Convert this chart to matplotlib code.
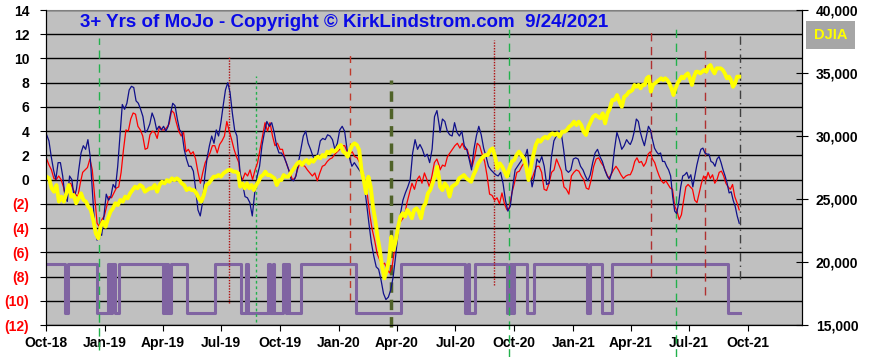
import matplotlib
matplotlib.use("Agg")
import matplotlib.pyplot as plt
import matplotlib.dates as mdates
from matplotlib.patches import Rectangle
from matplotlib.ticker import FuncFormatter
import pandas as pd

plt.rcParams["font.family"] = ["Liberation Sans", "DejaVu Sans"]
plt.rcParams["font.weight"] = "bold"

# blue MoJo line, read in four stretches (start date, end date, values)
mojo_spans = [("2018-10-02", "2019-07-26"), ("2019-07-31", "2020-06-06"),
              ("2020-06-07", "2021-03-29"), ("2021-03-31", "2021-09-17")]
mojo_1 = [3.7, 3.2, 1.9, 0.8, 0, 1.4, 1.4, 0.3, -1.4, -1.8, 0.3, 0, -1.5, -0.8, 0.8, 2.2, 2.8, 2.5,
          3.3, 1.9, -1.1, -3.9, -5.0, -4.4, -4.6, -3.0, -1.2, -1.7, -1.4, -0.4, -0.7, 1.1, 3.6, 6.2,
          5.8, 6.3, 7.4, 7.7, 7.6, 6.5, 6.3, 5.8, 5.2, 3.9, 4.1, 4.6, 5.5, 5.0, 4.1, 4.4, 4.1, 4.4,
          4.0, 4.4, 5.4, 6.3, 6.1, 5.0, 4.1, 3.9, 2.5, 1.7, 1.1, 1.1, 0.7, -0.8, -2.5, -3.0, -1.9,
          0.3, 1.8, 2.8, 3.6, 3.0, 4.1, 3.6, 4.7, 6.1, 7.4, 8.0, 7.2, 5.5, 4.1, 3.6]
mojo_2 = [0.55, -0.3, -1.4, -1.5, -1.9, -3.0, -1.1, 0.3, 1.1, 2.8, 3.9, 4.8, 4.4, 4.7, 3.9, 2.8,
          2.2, 2.2, 1.9, 1.4, 0.8, 0, -0.1, 0.3, 1.4, 2.5, 3.6, 4.0, 3.0, 2.5, 1.9, 1.7, 2.2, 3.2,
          3.4, 3.3, 3.7, 3.6, 3.3, 2.5, 3.0, 4.1, 4.4, 4.0, 2.5, 1.8, 1.1, 1.4, 1.1, 0.8, 0.55,
          -0.3, -1.9, -3.6, -5.2, -6.3, -7.2, -7.4, -8.3, -9.4, -9.9, -9.7, -9.1, -8.0, -6.3,
          -4.4, -2.8, -1.7, -1.1, -0.6, 0, 2.2, 3.3, 2.5, 2.9, 2.5, 1.9, 2.1, 1.4, 2.5, 5.2, 5.7, 4.4]
mojo_3 = [3.9, 5.0, 4.8, 4.0, 3.7, 3.6, 4.7, 3.9, 3.6, 4.0, 2.8, 2.5, 1.7, 0.8, 2.5, 3.6, 4.4, 3.7,
          2.6, 1.9, 1.1, 0.8, 0.6, 0.4, 0.3, 0.6, -0.3, -1.7, -2.6, -2.2, -0.6, 0.8, 1.1, 1.4, 1.7,
          1.8, 2.5, 0.8, -0.6, 0.3, 1.7, 1.4, 1.9, 1.1, -0.4, -0.3, 1.9, 3.2, 3.6, 4.0, 3.9, 2.5,
          0.8, 0.6, 0.8, 1.7, 1.8, 1.7, 1.1, 0.8, 0.3, -0.1, 0.4, 1.4, 2.2, 2.5, 1.9, 1.5, 0.8, 0.3,
          0, 0.7, 2.5, 3.9, 3.3, 2.5, 2.8, 3.3, 3.0]
mojo_4 = [2.9, 3.3, 4.0, 5.0, 4.8, 3.9, 3.3, 2.8, 3.6, 4.4, 4.1, 3.3, 2.6, 2.3, 2.1, 2.2, 1.5, 1.5,
          1.1, 0.8, 0.3, -1.4, -2.6, -2.8, -1.9, -0.6, 0.3, 0.4, 0.6, 0.1, 0.4, -0.6, 0.3, 1.2, 1.9,
          2.5, 2.6, 2.2, 2.1, 2.1, 1.5, 1.4, 1.1, 1.7, 1.9, 1.4, 0.8, 0.3, -0.3, -1.1, -1.0, -1.7,
          -2.2, -3.0, -3.6]

# red line
fast_spans = [("2018-10-02", "2019-07-29"), ("2019-07-31", "2020-06-06"),
              ("2020-06-07", "2021-03-28"), ("2021-03-31", "2021-09-17")]
fast_1 = [1.7, 1.2, 0.8, 0.1, 0, 0.3, 0, -0.6, -1.5, -0.4, -0.3, -0.8, -1.2, -1.4, -0.3, 0.6, 0.8,
          1.0, 1.7, 0.8, -1.4, -3.6, -3.9, -3.3, -3.0, -2.2, -1.4, -1.5, -1.1, -0.7, -0.6, 0.6, 2.5,
          4.1, 4.0, 5.0, 5.5, 5.4, 4.4, 4.1, 3.6, 2.5, 2.6, 3.7, 4.0, 3.9, 3.4, 4.4, 4.1, 4.1, 4.3,
          4.6, 5.7, 5.5, 4.7, 4.0, 3.6, 3.9, 2.3, 2.5, 2.1, 2.3, 1.7, 0.6, -0.3, 0.6, 1.4, 1.8, 2.2,
          2.8, 2.8, 2.2, 2.9, 3.2, 3.6, 4.8, 4.0, 3.3, 2.5, 1.9, 1.4]
fast_2 = [0.3, 0, 0.55, 0.3, 0.8, 0, 0.8, 1.4, 2.5, 3.6, 4.7, 4.0, 4.7, 3.6, 2.8, 3.0, 2.5, 2.5, 1.7,
          1.1, 0.55, 0, 0.1, 0.8, 1.4, 1.2, 1.1, 0.8, 0.55, 0.3, 0.55, -0.1, 0.55, 1.1, 1.2, 1.5,
          1.7, 1.8, 2.1, 2.3, 2.5, 2.8, 2.8, 2.3, 2.1, 2.3, 1.9, 1.8, 1.4, 0.8, 0, -1.1, -2.8, -4.1,
          -5.0, -6.1, -6.6, -7.0, -6.9, -7.4, -7.7, -7.2, -5.8, -4.7, -3.6, -3.3, -3.0, -1.9, -1.1,
          -0.3, -0.8, 0, 0.3, -0.3, 0.55, 0, -0.6, 0.3, 1.4, 1.7, 1.1]
fast_3 = [0.8, 1.2, 1.1, 1.9, 2.2, 2.5, 2.8, 3.0, 2.6, 3.0, 2.5, 2.5, 1.7, 1.1, 1.9, 3.0, 2.8, 2.1,
          1.5, 0.3, -1.2, -1.3, -1.7, -1.5, -2.0, -1.1, -2.0, -2.5, -2.3, -1.1, -0.3, 0.6, 0.7, 1.1,
          1.4, 0.6, 0.3, 0, 0.6, 1.1, 1.1, 0.6, -0.8, -0.9, -0.3, 0.6, 0.8, 1.7, 1.2, 0.7, -0.6,
          -0.8, -1.2, 0.3, 0.6, 0.8, 0.7, 0.3, 0, -0.7, -0.8, 0, 1.1, 1.7, 1.8, 1.4, 1.1, 0.6, 0.1,
          0.4, 0.8, 1.1, 0.8, 0.4, 0.1, 0.3, 0.4]
fast_4 = [0.4, 0.8, 1.5, 1.8, 1.4, 1.5, 1.1, 1.4, 2.1, 2.3, 1.7, 1.4, 0.8, 0.3, -0.1, -0.3, -0.1,
          -0.4, -0.7, -0.8, -2.2, -2.6, -3.3, -2.9, -1.7, -0.6, -0.4, -0.6, -0.8, -1.7, -1.9, -1.1,
          -0.3, 0.3, 0, 0.6, 0.1, 0.4, -0.3, 0, 0.6, 0.7, 0.3, -0.3, -0.6, -0.8, -0.4, -1.4, -1.9, -2.5]

# DJIA (right axis)
djia_spans = [("2018-10-02", "2019-07-28"), ("2019-07-31", "2020-06-06"),
              ("2020-06-07", "2021-03-29"), ("2021-03-31", "2021-09-17")]
djia_1 = [26770, 26640, 25850, 25580, 26110, 24790, 25190, 24790, 25450, 26110, 25190, 25320, 24660,
          25050, 25450, 24920, 24790, 24390, 24130, 23330, 22280, 21880, 22800, 23200, 22800, 23470,
          24000, 24260, 24660, 24520, 24920, 24790, 25190, 25050, 25450, 25710, 25980, 25850, 26110,
          25980, 25580, 25710, 25850, 25850, 26110, 25580, 26110, 26370, 26240, 26500, 26370, 26640,
          26500, 26640, 26500, 26240, 26110, 25710, 25850, 25710, 25710, 25450, 25050, 24790, 25320,
          26110, 26240, 26500, 26770, 26770, 26900, 26770, 27040, 27170, 27300, 27300, 27170, 27170,
          27040]
djia_2 = [25980, 26240, 25850, 26240, 25850, 26110, 25710, 26110, 26370, 26770, 26900, 27170, 26900,
          26900, 26770, 26640, 26110, 26500, 26500, 26900, 26770, 26770, 27040, 27300, 27560, 27830,
          27960, 27700, 27960, 28090, 27830, 28090, 27960, 28230, 28360, 28230, 28490, 28360, 28760,
          28620, 28890, 28760, 28890, 29150, 29280, 28760, 28620, 28360, 28890, 29280, 29420, 29280,
          28890, 27300, 26500, 25450, 26770, 25980, 24390, 23330, 22010, 20950, 19630, 18700, 19370,
          20160, 22010, 20950, 21750, 22800, 23600, 23870, 23600, 24130, 23870, 23470, 24130, 24260,
          24000, 23470, 24390, 24660, 25450, 25710, 26240, 26770, 27560, 26500]
djia_3 = [25980, 25710, 26240, 25980, 25190, 25980, 26110, 26240, 26640, 26770, 26900, 26640, 26500,
          26370, 26900, 27300, 27830, 28090, 28360, 28490, 28490, 28890, 29020, 28360, 27430, 27830,
          27560, 27170, 26770, 27430, 27960, 28090, 28490, 28760, 28490, 28230, 27560, 26500, 27560,
          28490, 29280, 29680, 29550, 29810, 29940, 29810, 30080, 30210, 30080, 30210, 29940, 30340,
          30340, 30470, 30740, 30870, 31140, 30870, 31140, 30870, 30340, 30080, 30740, 31140, 31530,
          31670, 31530, 31400, 31800, 31000, 31800, 32200, 32860, 32860, 33250, 32730, 32320, 33120,
          33250, 33520]
djia_4 = [33520, 33650, 34050, 33910, 34050, 33780, 34050, 34050, 34580, 34710, 33520, 34050, 34180,
          34310, 34440, 34580, 34440, 34580, 34440, 34180, 33780, 33250, 33780, 34180, 34440, 34710,
          34580, 34840, 34970, 34580, 34050, 34710, 35100, 35100, 34970, 35100, 35240, 35100, 35500,
          35630, 35240, 34970, 35370, 35370, 35370, 35240, 34970, 34580, 34710, 34440, 33910, 34180,
          34710, 34710]

# purple buy/sell signal: date it switches, level from that date on
signal_dates = ["2018-10-01", "2018-10-31", "2018-11-05", "2018-12-20", "2019-01-06", "2019-01-09",
                "2019-01-12", "2019-01-17", "2019-01-23", "2019-04-01", "2019-04-03", "2019-04-06",
                "2019-04-08", "2019-04-10", "2019-04-14", "2019-05-09", "2019-06-22", "2019-08-01",
                "2019-08-09", "2019-08-12", "2019-09-13", "2019-09-16", "2019-09-20", "2019-09-22",
                "2019-10-06", "2019-10-10", "2019-10-12", "2019-10-15", "2019-11-03", "2020-01-28",
                "2020-04-07", "2020-07-16", "2020-07-20", "2020-07-23", "2020-08-01", "2020-09-20",
                "2020-09-24", "2020-09-27", "2020-10-01", "2020-10-21", "2020-11-01", "2021-01-23",
                "2021-01-27", "2021-02-15", "2021-03-02", "2021-08-31", "2021-09-18"]
signal_vals = [-7, -11, -7, -11, -7, -11, -7, -11, -7, -11, -7, -11, -7, -11, -7, -11, -7, -11,
               -7, -11, -7, -11, -7, -11, -7, -11, -7, -11, -7, -11, -7, -11, -7, -11, -7, -11,
               -7, -11, -7, -11, -7, -11, -7, -11, -7, -11, -11]

# vertical marker lines (date, top, bottom on the left scale)
marker_dates = ["2018-12-22", "2019-07-14", "2019-08-24", "2020-01-18", "2020-03-22",
                "2020-08-30", "2020-09-22", "2021-05-03", "2021-06-11", "2021-07-26", "2021-09-18"]
marker_top = [11.7, 10.1, 8.55, 10.5, 8.2, 11.5, 12.7, 12.3, 12.8, 10.8, 12.1]
marker_bottom = [-14.1, -10.2, -11.75, -9.9, -12.2, -8.7, -14.6, -8.0, -14.6, -9.5, -8.2]
marker_style = [("#22b14c", (0, (6, 4)), 1.0), ("#b01010", (0, (1, 1)), 1.0),
                ("#22b14c", (0, (2, 2)), 1.0), ("#c0392b", (0, (5, 4)), 1.0),
                ("#4f6228", (0, (3, 2)), 2.5), ("#b01010", (0, (1, 1)), 1.0),
                ("#22b14c", (0, (6, 4)), 1.0), ("#b03030", (0, (6, 4)), 1.0),
                ("#22b14c", (0, (6, 4)), 1.0), ("#b03030", (0, (6, 4)), 1.0),
                ("#404040", (0, (6, 3, 1, 3)), 1.0)]

left_ticks = list(range(-12, 15, 2))
right_ticks = [15000, 20000, 25000, 30000, 35000, 40000]


def join_spans(spans, parts):
    pieces = []
    for (start, end), vals in zip(spans, parts):
        idx = pd.date_range(start, end, periods=len(vals))
        pieces.append(pd.Series(vals, index=idx))
    return pd.concat(pieces)


mojo = join_spans(mojo_spans, [mojo_1, mojo_2, mojo_3, mojo_4])
fast = join_spans(fast_spans, [fast_1, fast_2, fast_3, fast_4])
djia = join_spans(djia_spans, [djia_1, djia_2, djia_3, djia_4])

fig = plt.figure(figsize=(8.7, 3.57), dpi=100)
ax = fig.add_axes([46 / 870, 32 / 357, 756 / 870, 315 / 357])
ax.set_facecolor("#c0c0c0")

ax.set_xlim(pd.Timestamp("2018-10-01"), pd.Timestamp("2021-12-24"))
ax.set_ylim(-12, 14)
ax.set_yticks(left_ticks, labels=[f"({-v})" if v < 0 else str(v) for v in left_ticks])
for lbl, v in zip(ax.get_yticklabels(), left_ticks):
    lbl.set_color("#ff0000" if v < 0 else "black")
ax.yaxis.grid(True, color="black", linewidth=1.0)
ax.set_axisbelow(True)
ax.tick_params(axis="y", labelsize=10, length=4, pad=8)

ax.xaxis.set_major_locator(mdates.MonthLocator(bymonth=[1, 4, 7, 10]))
ax.xaxis.set_major_formatter(mdates.DateFormatter("%b-%y"))
ax.tick_params(axis="x", labelsize=10, length=4, pad=4)

for side in ["left", "bottom", "right"]:
    ax.spines[side].set_color("black")
ax.spines["top"].set_color("#808080")

ax.step(pd.to_datetime(signal_dates), signal_vals, where="post", color="#8064a2", linewidth=2.2)

for d, top, bot, (col, ls, lw) in zip(marker_dates, marker_top, marker_bottom, marker_style):
    ax.plot([pd.Timestamp(d)] * 2, [bot, top], color=col, linestyle=ls, linewidth=lw,
            clip_on=False, zorder=3)

ax.plot(fast.index, fast.values, color="#ff0000", linewidth=0.9, zorder=4)
ax.plot(mojo.index, mojo.values, color="#10108a", linewidth=0.9, zorder=5)

ax2 = ax.twinx()
ax2.set_ylim(15000, 40000)
ax2.set_yticks(right_ticks)
ax2.yaxis.set_major_formatter(FuncFormatter(lambda v, p: f"{int(v):,}"))
ax2.tick_params(axis="y", labelsize=10, direction="inout", length=8, pad=6)
ax2.plot(djia.index, djia.values, color="#ffff00", linewidth=2.8)
ax2.spines["top"].set_visible(False)

fig.text(80 / 870, 1 - 27 / 357, "3+ Yrs of MoJo - Copyright \u00a9 KirkLindstrom.com  9/24/2021",
         color="#0a0ae6", fontsize=13.5, fontweight="bold", va="baseline", ha="left")

fig.patches.append(Rectangle((806 / 870, 1 - 49 / 357), 49 / 870, 28 / 357,
                             transform=fig.transFigure, facecolor="#a6a6a6", edgecolor="none"))
fig.text(830.5 / 870, 1 - 35 / 357, "DJIA", color="#ffff00", fontsize=10.5,
         fontweight="bold", ha="center", va="center")

fig.savefig("out.png", dpi=100)
